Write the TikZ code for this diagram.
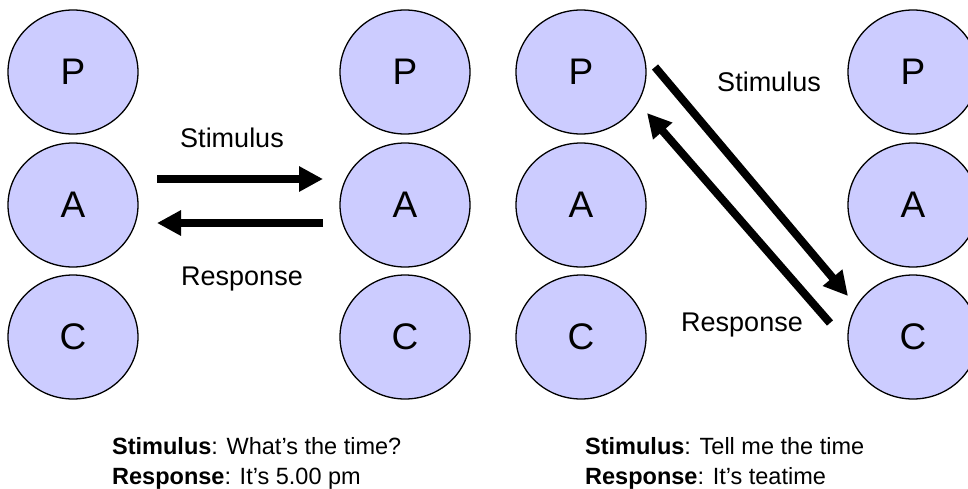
\documentclass[tikz,border=0pt]{standalone}
\usepackage{fontspec}
\setmainfont{Liberation Sans}
\usetikzlibrary{shapes.geometric,arrows.meta}
\definecolor{egofill}{HTML}{CCCCFF}
\begin{document}
\begin{tikzpicture}[x=1pt,y=-1pt,
  ego/.style={ellipse,draw=black,line width=1.3pt,fill=egofill,minimum width=130pt,minimum height=124pt,inner sep=0pt,outer sep=0pt,font=\fontsize{37}{40}\selectfont},
  bigarrow/.style={line width=8pt,-{Triangle[length=24pt,width=24pt]}},
  lbl/.style={font=\fontsize{27}{32}\selectfont,inner sep=0pt,anchor=base},
  note/.style={font=\fontsize{23.5}{30}\selectfont,inner sep=0pt,anchor=base west}]
\useasboundingbox (0,0) rectangle (968,488);
% columns
\node[ego] (P1) at (73,72) {P};
\node[ego] (A1) at (73,205) {A};
\node[ego] (C1) at (73,337) {C};
\node[ego] (P2) at (405,72) {P};
\node[ego] (A2) at (405,205) {A};
\node[ego] (C2) at (405,337) {C};
\node[ego] (P3) at (581,72) {P};
\node[ego] (A3) at (581,205) {A};
\node[ego] (C3) at (581,337) {C};
\node[ego] (P4) at (913,72) {P};
\node[ego] (A4) at (913,205) {A};
\node[ego] (C4) at (913,337) {C};
% left pair arrows
\draw[bigarrow,shorten <=19pt,shorten >=17pt] ([yshift=26pt]A1.east) -- ([yshift=26pt]A2.west);
\draw[bigarrow,shorten <=17pt,shorten >=19pt] ([yshift=-18pt]A2.west) -- ([yshift=-18pt]A1.east);
\node[lbl] (st1) at (232,147) {Stimulus};
\node[lbl] (re1) at (242,285) {Response};
% right pair arrows
\coordinate (s2a) at ([xshift=74pt,yshift=5pt]P3.center);
\coordinate (s2b) at ([xshift=-65pt,yshift=41pt]C4.center);
\coordinate (r2a) at ([xshift=-83pt,yshift=14pt]C4.center);
\coordinate (r2b) at ([xshift=66pt,yshift=-41pt]P3.center);
\draw[bigarrow] (s2a) -- (s2b);
\draw[bigarrow] (r2a) -- (r2b);
\node[lbl] (st2) at (769,91) {Stimulus};
\node[lbl] (re2) at (742,331) {Response};
% notes
\node[note] (n1) at (112,454) {\textbf{Stimulus}: What’s the time?};
\node[note] (n2) at (112,484) {\textbf{Response}: It’s 5.00 pm};
\node[note] (n3) at (585,454) {\textbf{Stimulus}: Tell me the time};
\node[note] (n4) at (585,484) {\textbf{Response}: It’s teatime};
\end{tikzpicture}
\end{document}
